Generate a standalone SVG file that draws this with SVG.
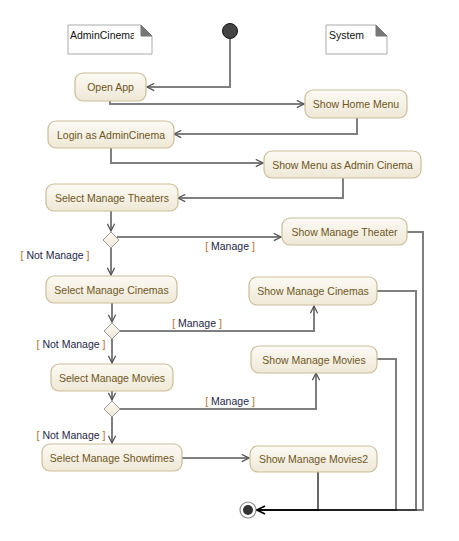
<svg xmlns="http://www.w3.org/2000/svg" width="459" height="541" viewBox="0 0 459 541">
<defs>
<linearGradient id="g" x1="0" y1="0" x2="0" y2="1">
<stop offset="0" stop-color="#fcfaf4"/>
<stop offset="1" stop-color="#efe8d6"/>
</linearGradient>
<marker id="a" viewBox="0 0 10 10" refX="9" refY="5" markerWidth="9" markerHeight="9" markerUnits="userSpaceOnUse" orient="auto">
<path d="M1,1 L9,5 L1,9" fill="none" stroke="#555" stroke-width="1.4"/>
</marker>
<marker id="af" viewBox="0 0 10 10" refX="9" refY="5" markerWidth="10" markerHeight="10" markerUnits="userSpaceOnUse" orient="auto">
<path d="M1,1 L9,5 L1,9" fill="none" stroke="#000" stroke-width="1.6"/>
</marker>
<clipPath id="c1"><rect x="68" y="25" width="66" height="29"/></clipPath>
</defs>
<style>
.n rect{fill:url(#g);stroke:#cbbd98;stroke-width:1.2}
.n text{font-family:"Liberation Sans",Arial,sans-serif;font-size:10.5px;fill:#6e5622;text-anchor:middle}
.c path{fill:none;stroke:#000;stroke-opacity:0.5;stroke-width:2}
.lbl{font-family:"Liberation Sans",Arial,sans-serif;font-size:10.5px;fill:#1f2747;text-anchor:middle}
.br{fill:#b8732e}
.note path{fill:#fff;stroke:#aaa;stroke-width:1}
.note text{font-family:"Liberation Sans",Arial,sans-serif;font-size:10.5px;fill:#111}
.d{fill:url(#g);stroke:#999;stroke-width:1}
</style>
<g id="note-admin" class="note">
<path d="M68,25 H141 L152,36 V54 H68 Z"/>
<path d="M141,25 L152,36 H141 Z" style="fill:#777;stroke:#777"/>
<text x="70" y="39" clip-path="url(#c1)">AdminCinema</text>
</g>
<g id="note-system" class="note">
<path d="M326,25 H376 L387,36 V54 H326 Z"/>
<path d="M376,25 L387,36 H376 Z" style="fill:#777;stroke:#777"/>
<text x="329" y="39">System</text>
</g>
<g id="start"><circle cx="230" cy="31" r="7.5" fill="#444" stroke="#111" stroke-width="1"/></g>
<g id="end"><circle cx="248" cy="510" r="8" fill="#fff" stroke="#888" stroke-width="1.2"/><circle cx="248" cy="510" r="5" fill="#333"/></g>
<g class="c" id="connectors">
<path d="M230,39 V87 H147" marker-end="url(#a)"/>
<path d="M110,101 V104 H304" marker-end="url(#a)"/>
<path d="M357,118 V134 H174" marker-end="url(#a)"/>
<path d="M111,148 V163 H263" marker-end="url(#a)"/>
<path d="M343,178 V198 H178" marker-end="url(#a)"/>
<path d="M111,211 V231" marker-end="url(#a)"/>
<path d="M117,237 H281" marker-end="url(#a)"/>
<path d="M111,248 V275" marker-end="url(#a)"/>
<path d="M407,232 H423 V510 H257"/>
<path d="M377,291 H416 V510 H257"/>
<path d="M112,303 V322" marker-end="url(#a)"/>
<path d="M120,331 H314 V306" marker-end="url(#a)"/>
<path d="M112,339 V363" marker-end="url(#a)"/>
<path d="M377,359 H396 V510 H257"/>
<path d="M112,391 V400" marker-end="url(#a)"/>
<path d="M120,409 H316 V373" marker-end="url(#a)"/>
<path d="M112,417 V443" marker-end="url(#a)"/>
<path d="M182,458 H249" marker-end="url(#a)"/>
<path d="M318,472 V510 H257" marker-end="url(#af)" style="stroke-opacity:0.6"/>
</g>
<g id="d1"><path class="d" d="M111,232 L119,240 L111,248 L103,240 Z"/></g>
<g id="d2"><path class="d" d="M112,323 L120,331 L112,339 L104,331 Z"/></g>
<g id="d3"><path class="d" d="M112,401 L120,409 L112,417 L104,409 Z"/></g>
<g id="labels">
<text class="lbl" x="230" y="250"><tspan class="br">[</tspan> Manage <tspan class="br">]</tspan></text>
<text class="lbl" x="55" y="259"><tspan class="br">[</tspan> Not Manage <tspan class="br">]</tspan></text>
<text class="lbl" x="197" y="327"><tspan class="br">[</tspan> Manage <tspan class="br">]</tspan></text>
<text class="lbl" x="71" y="348"><tspan class="br">[</tspan> Not Manage <tspan class="br">]</tspan></text>
<text class="lbl" x="230" y="405"><tspan class="br">[</tspan> Manage <tspan class="br">]</tspan></text>
<text class="lbl" x="71" y="439"><tspan class="br">[</tspan> Not Manage <tspan class="br">]</tspan></text>
</g>
<g id="open-app" class="n"><rect x="75" y="73" width="71" height="28" rx="8"/><text x="110.5" y="91">Open App</text></g>
<g id="show-home-menu" class="n"><rect x="305" y="90" width="102" height="28" rx="8"/><text x="356" y="108">Show Home Menu</text></g>
<g id="login" class="n"><rect x="48" y="121" width="126" height="27" rx="8"/><text x="111" y="138.5">Login as AdminCinema</text></g>
<g id="show-menu-admin" class="n"><rect x="264" y="151" width="157" height="27" rx="8"/><text x="342.5" y="168.5">Show Menu as Admin Cinema</text></g>
<g id="select-theaters" class="n"><rect x="46" y="184" width="132" height="27" rx="8"/><text x="112" y="201.5">Select Manage Theaters</text></g>
<g id="show-theater" class="n"><rect x="282" y="218" width="125" height="27" rx="8"/><text x="344.5" y="235.5">Show Manage Theater</text></g>
<g id="select-cinemas" class="n"><rect x="46" y="276" width="131" height="27" rx="8"/><text x="111.5" y="293.5">Select Manage Cinemas</text></g>
<g id="show-cinemas" class="n"><rect x="249" y="277" width="128" height="28" rx="8"/><text x="313" y="295">Show Manage Cinemas</text></g>
<g id="select-movies" class="n"><rect x="51" y="364" width="122" height="27" rx="8"/><text x="112" y="381.5">Select Manage Movies</text></g>
<g id="show-movies" class="n"><rect x="251" y="346" width="126" height="27" rx="8"/><text x="314" y="363.5">Show Manage Movies</text></g>
<g id="select-showtimes" class="n"><rect x="42" y="444" width="140" height="27" rx="8"/><text x="112" y="461.5">Select Manage Showtimes</text></g>
<g id="show-movies2" class="n"><rect x="250" y="446" width="127" height="26" rx="8"/><text x="313.5" y="463">Show Manage Movies2</text></g>
</svg>
